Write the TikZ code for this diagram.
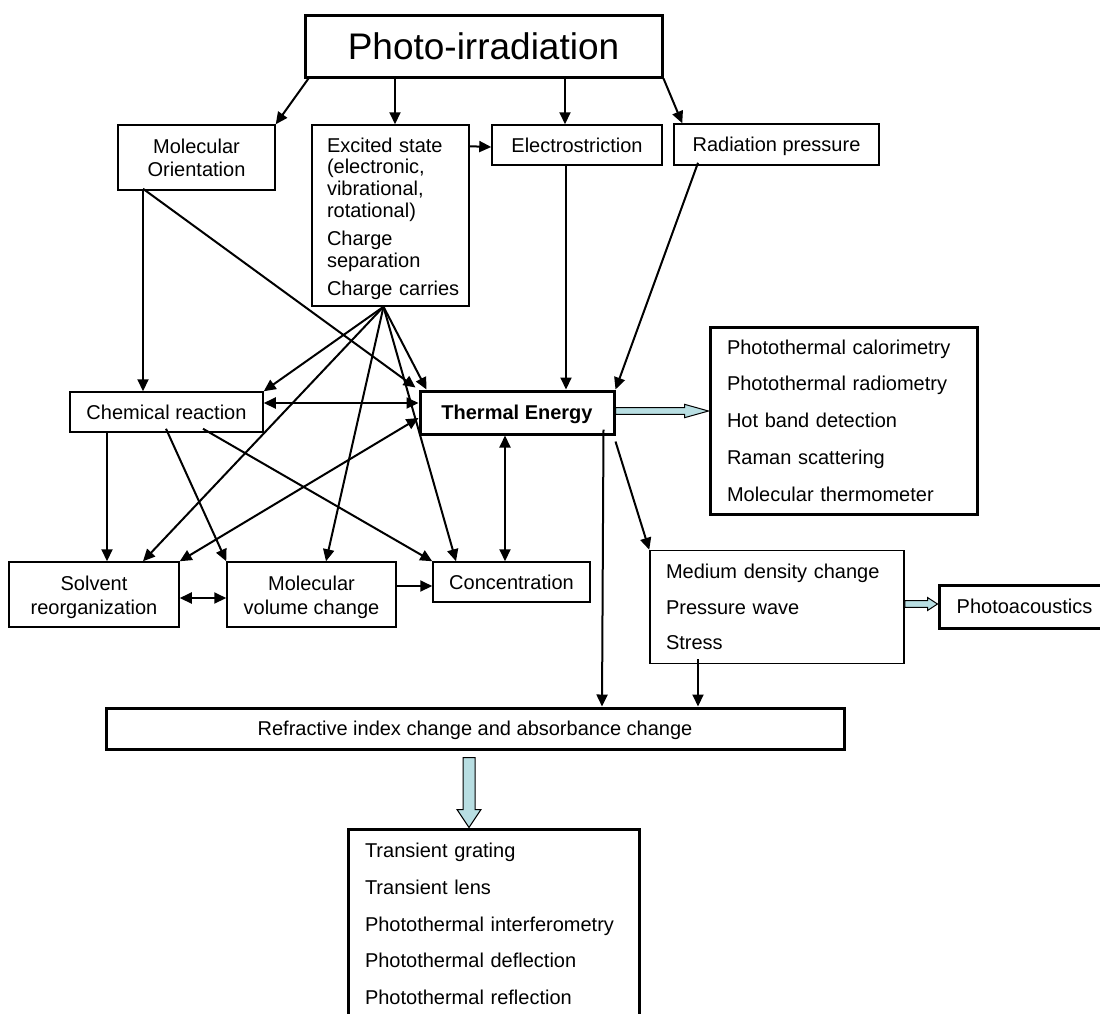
\documentclass[tikz,border=0pt]{standalone}
\usepackage{fontspec}
\setmainfont{Liberation Sans}
\usetikzlibrary{arrows.meta,calc}
\definecolor{fatfill}{RGB}{184,222,226}
\begin{document}
\begin{tikzpicture}[x=1pt,y=-1pt,
  box/.style={draw, line width=1.5pt, rectangle, inner sep=0pt, font=\fontsize{20}{24}\selectfont},
  boldbox/.style={box, line width=3pt},
  oneline/.style={text height=16pt, text depth=2pt},
  arr/.style={line width=2pt, -{Triangle[length=12pt,width=11pt]}},
  darr/.style={line width=2pt, {Triangle[length=12pt,width=11pt]}-{Triangle[length=12pt,width=11pt]}},
  fat/.style={draw, line width=1pt, fill=fatfill, line join=miter},
]
\useasboundingbox (0,0) rectangle (1100,1013);
\clip (0,0) rectangle (1100,1013);

% nodes
\node[boldbox, minimum width=357pt, minimum height=62pt, text height=29.5pt, text depth=3pt, font=\fontsize{37}{40}\selectfont] (photo) at (483.5,46) {Photo-irradiation};
\node[box, minimum width=157pt, minimum height=65pt, align=center, font=\fontsize{20}{23}\selectfont] (molor) at (196.5,157.5) {Molecular\\Orientation};
\node[box, minimum width=157pt, minimum height=181pt, text width=127pt, align=left, font=\fontsize{20}{21.7}\selectfont] (excited) at (390.5,215.5) {\rule{0pt}{20.5pt}\mbox{Excited state}\\\mbox{(electronic,}\\\mbox{vibrational,}\\\mbox{rotational)}\\[6.3pt]\mbox{Charge}\\\mbox{separation}\\[6.3pt]\mbox{Charge carries}};
\node[box, oneline, minimum width=170pt, minimum height=40pt] (electro) at (577,145) {Electrostriction};
\node[box, oneline, minimum width=205pt, minimum height=41pt] (radp) at (776.5,144.5) {Radiation pressure};
\node[box, oneline, minimum width=193pt, minimum height=40pt] (chem) at (166.5,412) {Chemical reaction};
\node[boldbox, oneline, minimum width=194pt, minimum height=43pt, font=\fontsize{20}{24}\selectfont\bfseries] (thermal) at (517,412.5) {Thermal Energy};
\node[boldbox, minimum width=267pt, minimum height=187pt, text width=233pt, align=left] (photothermal) at (843.5,420.5) {Photothermal calorimetry\\[12.7pt]Photothermal radiometry\\[12.7pt]Hot band detection\\[12.7pt]Raman scattering\\[12.7pt]Molecular thermometer};
\node[box, minimum width=170pt, minimum height=65pt, align=center] (solvent) at (94,594.5) {\rule{0pt}{20.5pt}Solvent\\reorganization};
\node[box, minimum width=169pt, minimum height=65pt, align=center] (molvol) at (311.5,594.5) {\rule{0pt}{20.5pt}Molecular\\volume change};
\node[box, oneline, minimum width=157pt, minimum height=40pt] (conc) at (511.5,582) {Concentration};
\node[box, minimum width=254pt, minimum height=113pt, text width=222pt, align=left] (medium) at (777,607) {Medium density change\\[11.5pt]Pressure wave\\[11.5pt]Stress};
\node[boldbox, oneline, minimum width=171pt, minimum height=43pt] (photoac) at (1024.5,606.5) {Photoacoustics};
\node[boldbox, oneline, minimum width=738pt, minimum height=41pt] (refr) at (475,728.5) {Refractive index change and absorbance change};
\node[boldbox, minimum width=291pt, minimum height=190pt, text width=257pt, align=left] (bottom) at (493.5,924) {Transient grating\\[12.7pt]Transient lens\\[12.7pt]Photothermal interferometry\\[12.7pt]Photothermal deflection\\[12.7pt]Photothermal reflection};

\coordinate (hub) at ($(excited.south)+(-7,0)$);

% connectors
\draw[arr] ($(photo.south west)+(5,0)$) -- (molor.north east);
\draw[arr] ($(photo.south)+(-88.5,0)$) -- ($(excited.north)+(4.5,0)$);
\draw[arr] ($(photo.south)+(81.5,0)$) -- ($(electro.north)+(-12,0)$);
\draw[arr] (photo.south east) -- ($(radp.north west)+(9,0)$);
\draw[arr] ($(excited.north east)+(0,22)$) -- ($(electro.west)+(0,2)$);
\draw[arr] ($(molor.south)+(-53.5,0)$) -- ($(chem.north)+(-23.5,0)$);
\draw[arr] ($(molor.south)+(-53.5,-2)$) -- ($(thermal.north west)+(-3,-2)$);
\draw[arr] (hub) -- (chem.north east);
\draw[arr] (hub) -- ($(solvent.north)+(49,0)$);
\draw[arr] (hub) -- ($(molvol.north)+(14.5,0)$);
\draw[arr] (hub) -- ($(conc.north)+(-55.5,0)$);
\draw[arr] (hub) -- ($(thermal.north west)+(8,0)$);
\draw[arr] ($(electro.south)+(-11,0)$) -- ($(thermal.north)+(49,0)$);
\draw[arr] ($(radp.south)+(-78.5,-3)$) -- (thermal.north east);
\draw[darr] ($(chem.east)+(0,-9)$) -- ($(thermal.west)+(0,-9.5)$);
\draw[darr] ($(thermal.west)+(0,5.5)$) -- (solvent.north east);
\draw[arr] ($(chem.south)+(-59.5,0)$) -- ($(solvent.north)+(13,0)$);
\draw[arr] ($(chem.south)+(-0.5,-4)$) -- (molvol.north west);
\draw[arr] ($(chem.south)+(36.5,-4)$) -- (conc.north west);
\draw[darr] ($(solvent.east)+(0,3.5)$) -- ($(molvol.west)+(0,3.5)$);
\draw[arr] ($(molvol.east)+(0,-8.5)$) -- ($(conc.west)+(0,4)$);
\draw[darr] ($(thermal.south)+(-12,0)$) -- ($(conc.north)+(-6.5,0)$);
\draw[arr] ($(thermal.south east)+(0,6)$) -- (medium.north west);
\draw[arr] ($(thermal.south east)+(-12,-6)$) -- ($(refr.north)+(127,0)$);
\draw[arr] ($(medium.south)+(-79,-5)$) -- ($(refr.north)+(223,0)$);

% hollow (fat) arrows
\coordinate (fa1) at ($(thermal.east)+(0,-1.5)$);
\coordinate (fb1) at ($(photothermal.west)+(0,-9.5)$);
\draw[fat] ($(fa1)+(0,-3.3)$) -- ($(fb1)+(-24,-3.3)$) -- ($(fb1)+(-24,-6.7)$) -- (fb1) -- ($(fb1)+(-24,6.7)$) -- ($(fb1)+(-24,3.3)$) -- ($(fa1)+(0,3.3)$) -- cycle;

\coordinate (fa2) at ($(medium.east)+(0,-3)$);
\coordinate (fb2) at ($(photoac.west)+(0,-2.5)$);
\draw[fat] ($(fa2)+(0,-3.3)$) -- ($(fb2)+(-10,-3.3)$) -- ($(fb2)+(-10,-6.5)$) -- (fb2) -- ($(fb2)+(-10,6.5)$) -- ($(fb2)+(-10,3.3)$) -- ($(fa2)+(0,3.3)$) -- cycle;

\coordinate (fa3) at ($(refr.south)+(-6,7)$);
\coordinate (fb3) at ($(bottom.north)+(-24.5,0)$);
\draw[fat] ($(fa3)+(-6,0)$) -- ($(fb3)+(-6,-18)$) -- ($(fb3)+(-12,-18)$) -- (fb3) -- ($(fb3)+(12,-18)$) -- ($(fb3)+(6,-18)$) -- ($(fa3)+(6,0)$) -- cycle;
\end{tikzpicture}
\end{document}
